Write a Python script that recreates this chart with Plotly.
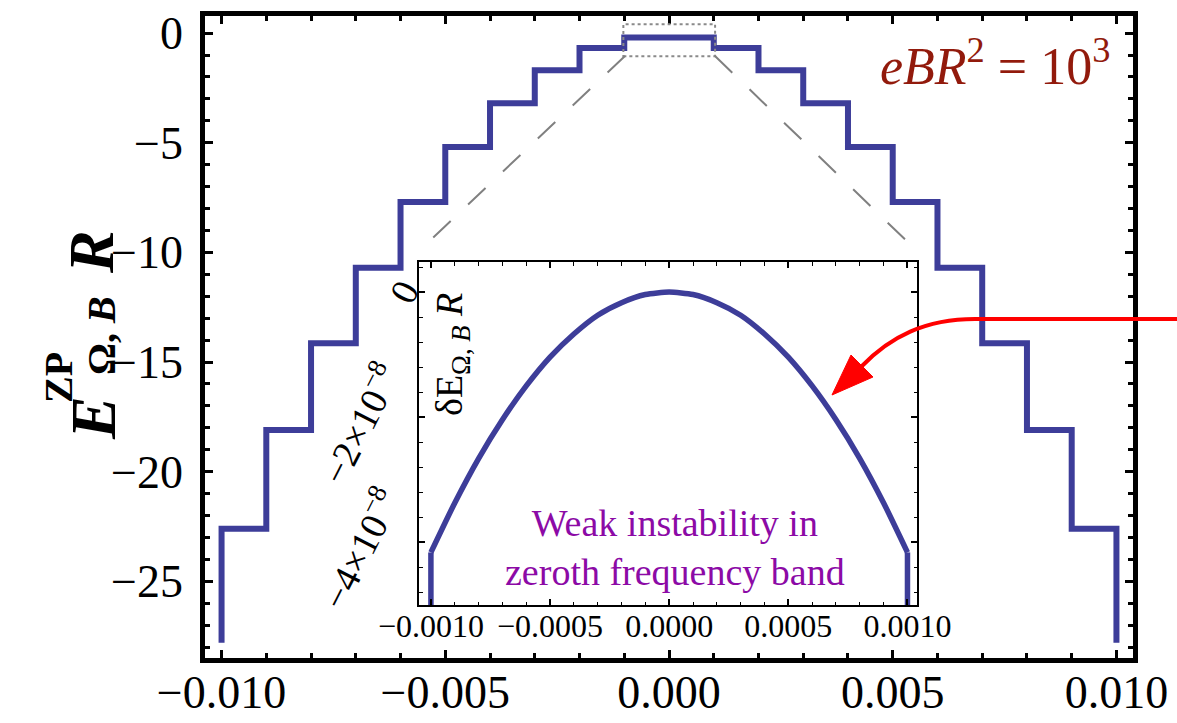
import plotly.graph_objects as go

W, H = 1177, 723

# ---------------- data ----------------
# main panel: zero-point energy step function
step_x = [-0.010, -0.010, -0.009, -0.008, -0.007, -0.006, -0.005, -0.004, -0.003, -0.002, -0.001,
          0.001, 0.002, 0.003, 0.004, 0.005, 0.006, 0.007, 0.008, 0.009, 0.010]
step_y = [-27.8, -22.6, -18.1, -14.15, -10.7, -7.7, -5.2, -3.2, -1.69, -0.68, -0.2,
          -0.68, -1.69, -3.2, -5.2, -7.7, -10.7, -14.15, -18.1, -22.6, -27.8]

main_xticks = [-0.010, -0.005, 0.000, 0.005, 0.010]
main_xtext = ["\u22120.010", "\u22120.005", "0.000", "0.005", "0.010"]
main_yticks = [0, -5, -10, -15, -20, -25]
main_ytext = ["0", "\u22125", "\u221210", "\u221215", "\u221220", "\u221225"]

# inset: zeroth frequency band
inset_x = [-0.001, -0.0009, -0.0008, -0.0007, -0.0006, -0.0005, -0.0004, -0.0003, -0.0002, -0.0001, 0.0,
           0.0001, 0.0002, 0.0003, 0.0004, 0.0005, 0.0006, 0.0007, 0.0008, 0.0009, 0.001]
inset_y = [-4.16e-8, -3.37e-8, -2.66e-8, -2.04e-8, -1.50e-8, -1.04e-8, -0.67e-8, -0.37e-8, -0.17e-8, -0.04e-8, 0.0,
           -0.04e-8, -0.17e-8, -0.37e-8, -0.67e-8, -1.04e-8, -1.50e-8, -2.04e-8, -2.66e-8, -3.37e-8, -4.16e-8]
inset_edge_x = [-0.001, 0.001]
inset_edge_top = -4.16e-8
inset_edge_bottom = -5.4e-8

inset_xticks = [-0.001, -0.0005, 0.0, 0.0005, 0.001]
inset_xtext = ["\u22120.0010", "\u22120.0005", "0.0000", "0.0005", "0.0010"]
inset_yticks = [0.0, -2e-8, -4e-8]
inset_ytext = ["0", "\u22122\u00d710<sup>\u22128</sup>", "\u22124\u00d710<sup>\u22128</sup>"]

# ---------------- style ----------------
BLUE = "#3d3d99"
SERIF = "Liberation Serif"


def px(x):
    return x / W


def py(y):
    return 1 - y / H


def path(points, close=False):
    s = ""
    for p in points:
        cmd = p[0]
        coords = p[1:]
        s += cmd + " " + " ".join(
            f"{px(coords[j]):.5f},{py(coords[j+1]):.5f}" for j in range(0, len(coords), 2)) + " "
    if close:
        s += "Z"
    return s


fig = go.Figure()

fig.add_trace(go.Scatter(x=step_x, y=step_y, mode="lines", line=dict(color=BLUE, width=6, shape="hv"),
                         xaxis="x", yaxis="y", showlegend=False, hoverinfo="skip"))

fig.add_trace(go.Scatter(x=inset_x, y=inset_y, mode="lines",
                         line=dict(color=BLUE, width=5.5, shape="spline", smoothing=0.6),
                         xaxis="x2", yaxis="y2", showlegend=False, hoverinfo="skip"))
for ex in inset_edge_x:
    fig.add_trace(go.Scatter(x=[ex, ex], y=[inset_edge_top, inset_edge_bottom], mode="lines",
                             line=dict(color=BLUE, width=5.5),
                             xaxis="x2", yaxis="y2", showlegend=False, hoverinfo="skip"))

axis_common = dict(showgrid=False, zeroline=False, showline=True, linecolor="black",
                   mirror="allticks", ticks="inside", tickcolor="black")

fig.update_layout(
    width=W, height=H,
    margin=dict(l=0, r=0, t=0, b=0),
    paper_bgcolor="white", plot_bgcolor="white",
    xaxis=dict(domain=[205 / W, 1133 / W], range=[-0.01037, 0.01037], anchor="y",
               tickvals=main_xticks, ticktext=main_xtext, ticklen=8, tickwidth=3, linewidth=4.5,
               minor=dict(dtick=0.001, tick0=0, ticks="inside", ticklen=5, tickwidth=2.5, tickcolor="black"),
               tickfont=dict(family=SERIF, size=46, color="black"), ticklabelstandoff=-10,
               automargin=False, **axis_common),
    yaxis=dict(domain=[1 - 658 / H, 1 - 16 / H], range=[-28.5, 0.78], anchor="x",
               tickvals=main_yticks, ticktext=main_ytext, ticklen=8, tickwidth=3, linewidth=4.5,
               minor=dict(dtick=1, tick0=0, ticks="inside", ticklen=5, tickwidth=2.5, tickcolor="black"),
               tickfont=dict(family=SERIF, size=46, color="black"), ticklabelstandoff=8,
               automargin=False, **axis_common),
    xaxis2=dict(domain=[419 / W, 917 / W], range=[-0.00105, 0.00104], anchor="y2",
                tickvals=inset_xticks, ticktext=inset_xtext, ticklen=6, tickwidth=1.5, linewidth=2,
                minor=dict(dtick=0.0001, tick0=0, ticks="inside", ticklen=3.5, tickwidth=1.2, tickcolor="black"),
                tickfont=dict(family=SERIF, size=32, color="black"), ticklabelstandoff=-8,
                automargin=False, **axis_common),
    yaxis2=dict(domain=[1 - 605 / H, 1 - 262 / H], range=[-5.0e-8, 0.48e-8], anchor="x2",
                tickvals=inset_yticks, showticklabels=False, ticklen=6, tickwidth=1.5, linewidth=2,
                minor=dict(dtick=0.4e-8, tick0=0, ticks="inside", ticklen=3.5, tickwidth=1.2, tickcolor="black"),
                automargin=False, **axis_common),
)

big = dict(family=SERIF, size=64, color="black", weight="bold", style="italic")
small = dict(family=SERIF, size=40, color="black", weight="bold")


def rot(text, x, y, font):
    return dict(text=text, textangle=-90, x=px(x), y=py(y), xref="paper", yref="paper",
                xanchor="center", yanchor="middle", showarrow=False, font=font)


annotations = [
    # main y title  E^{ZP}_{Omega,B} R  (pieces stacked like the original)
    rot("E", 93, 418, big),
    rot("ZP", 58, 378, small),
    rot("\u03a9, <i>B</i>", 101, 336, small),
    rot("R", 91, 252, big),
    # inset y title
    dict(text="\u03b4E<sub>\u03a9, <i>B</i></sub> <i>R</i>", textangle=-90,
         x=px(452), y=py(355), xref="paper", yref="paper", xanchor="center", yanchor="middle",
         showarrow=False, font=dict(family=SERIF, size=38, color="black")),
    # field label
    dict(text="<i>eBR</i><sup>2</sup> = 10<sup>3</sup>",
         x=px(1112), y=py(62), xref="paper", yref="paper", xanchor="right", yanchor="middle",
         showarrow=False, font=dict(family=SERIF, size=52, color="#921a0c")),
    # inset note
    dict(text="Weak instability in<br>zeroth frequency band",
         x=px(675), y=py(547), xref="paper", yref="paper", xanchor="center", yanchor="middle",
         showarrow=False, align="center", font=dict(family=SERIF, size=38, color="#8c0aa6")),
]
# inset y tick labels, placed at the tick values of the inset y axis (rotated like the original)
for v, t in zip(inset_yticks, inset_ytext):
    annotations.append(dict(text=t, textangle=-63, x=px(412), y=v, xref="paper", yref="y2",
                            xanchor="right", yanchor="middle", showarrow=False,
                            xshift=18 if len(t) == 1 else 0, yshift=0 if len(t) == 1 else -6,
                            font=dict(family=SERIF, size=38, color="black")))
fig.update_layout(annotations=annotations)

shapes = [
    # dotted zoom box
    dict(type="rect", xref="x", yref="y", x0=-0.00102, x1=0.00103, y0=-1.05, y1=0.4,
         line=dict(color="#8a8a8a", width=2, dash="dot"), layer="above"),
    # dashed connectors
    dict(type="line", xref="paper", yref="paper", x0=px(625), y0=py(56), x1=px(420), y1=py(250),
         line=dict(color="#808080", width=2, dash="24px,24px")),
    dict(type="line", xref="paper", yref="paper", x0=px(715), y0=py(56), x1=px(916), y1=py(250),
         line=dict(color="#808080", width=2, dash="24px,24px")),
    # red curved arrow
    dict(type="path", xref="paper", yref="paper",
         path=path([("M", 1180, 319), ("L", 975, 319), ("C", 925, 319, 890, 337, 862, 366)]),
         line=dict(color="#ff0000", width=4)),
    dict(type="path", xref="paper", yref="paper",
         path=path([("M", 832, 395), ("L", 851, 355), ("L", 873, 377)], close=True),
         line=dict(color="#ff0000", width=1), fillcolor="#ff0000"),
]
fig.update_layout(shapes=shapes)

fig.write_html("out.html")
